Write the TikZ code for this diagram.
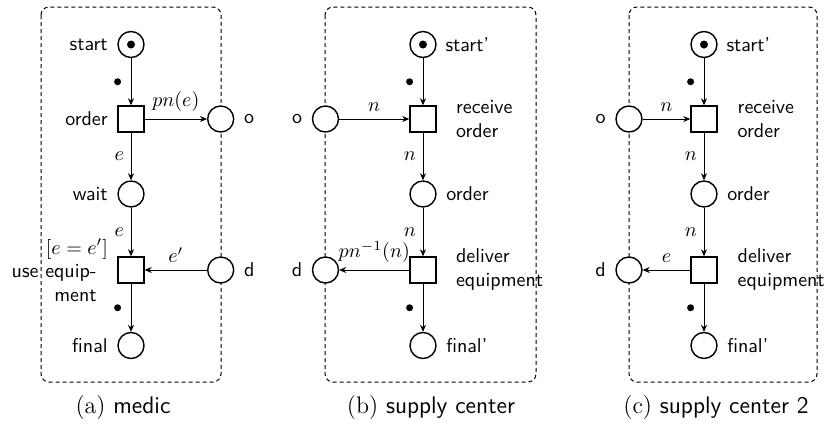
\documentclass[tikz,border=0pt]{standalone}
\usetikzlibrary{arrows.meta}
\begin{document}
\begin{tikzpicture}[x=0.5pt,y=-0.5pt,
  place/.style={circle,draw,line width=0.7pt,minimum size=13pt,inner sep=0pt,fill=white},
  trans/.style={rectangle,draw,line width=0.7pt,minimum size=13pt,inner sep=0pt,fill=white},
  pnarc/.style={-{Stealth[length=3.5pt,width=3pt]},line width=0.4pt},
  tok/.style={circle,fill=black,minimum size=3.5pt,inner sep=0pt},
  intok/.style={circle,fill=black,minimum size=4pt,inner sep=0pt},
  lbl/.style={inner sep=0pt,font=\sffamily},
  alab/.style={inner sep=3.33pt},
  capt/.style={inner sep=0pt,font=\fontsize{12}{14.4}\selectfont},
  groupbox/.style={draw,dash pattern=on 2pt off 1.5pt,rounded corners=4pt,line width=0.5pt}]
\useasboundingbox (0,0) rectangle (827,424);

% ---------- frames ----------
\draw[groupbox] (41,7) rectangle (221,382);
\draw[groupbox] (325,7) rectangle (536,382);
\draw[groupbox] (629,7) rectangle (817,382);

% ---------- (a) medic ----------
\node[place] (sA) at (131,44.5) {};
\node[intok] (sAt) at (sA) {};
\node[trans] (ordA) at (131,119) {};
\node[place] (oA) at (220.7,119) {};
\node[place] (wA) at (131,194) {};
\node[trans] (uA) at (131,270) {};
\node[place] (dA) at (220.7,270) {};
\node[place] (fA) at (131,345.5) {};

\node[lbl,anchor=east] (lsA) at ([xshift=-4.6pt]sA.west) {start};
\node[lbl,anchor=east] (lordA) at ([xshift=-4.6pt]ordA.west) {order};
\node[lbl,anchor=west] (loA) at ([xshift=4.6pt]oA.east) {o};
\node[lbl,anchor=east] (lwA) at ([xshift=-4.6pt]wA.west) {wait};
\node[lbl,anchor=west] (ldA) at ([xshift=4.6pt]dA.east) {d};
\node[lbl,anchor=east] (lfA) at ([xshift=-4.6pt]fA.west) {final};
\node[inner sep=0pt,anchor=east] (gA) at (108.3,249) {$[e = e']$};
\node[lbl,anchor=east,align=right] (luA) at (97,283) {use equip-\\ment};

\draw[pnarc] (sA) -- node[tok,left=4.75pt] (tkA1) {} (ordA);
\draw[pnarc] (ordA) -- node[alab,above] (lpA) {$pn(e)$} (oA);
\draw[pnarc] (ordA) -- node[alab,left] (leA1) {$e$} (wA);
\draw[pnarc] (wA) -- node[alab,left] (leA2) {$e$} (uA);
\draw[pnarc] (dA) -- node[alab,above] (leA3) {$e'$} (uA);
\draw[pnarc] (uA) -- node[tok,left=4.75pt] (tkA2) {} (fA);

\node[capt] (capA) at (123,408) {(a) \textsf{medic}};

% ---------- (b) supply center ----------
\node[place] (sB) at (423,44.5) {};
\node[intok] (sBt) at (sB) {};
\node[trans] (rB) at (423,119) {};
\node[place] (oB) at (325.5,119) {};
\node[place] (ordB) at (423,194) {};
\node[trans] (deB) at (423,270) {};
\node[place] (dB) at (325.5,270) {};
\node[place] (fB) at (423,345.5) {};

\node[lbl,anchor=west] (lsB) at ([xshift=4.2pt]sB.east) {start'};
\node[lbl,anchor=east] (loB) at ([xshift=-4.6pt]oB.west) {o};
\node[lbl,anchor=west,align=left] (lrB) at (455.7,119) {receive\\order};
\node[lbl,anchor=west] (lordB) at ([xshift=4.6pt]ordB.east) {order};
\node[lbl,anchor=west,align=left] (ldeB) at (455.7,269) {deliver\\equipment};
\node[lbl,anchor=east] (ldB) at ([xshift=-4.6pt]dB.west) {d};
\node[lbl,anchor=west] (lfB) at ([xshift=4.6pt]fB.east) {final'};

\draw[pnarc] (sB) -- node[tok,left=4.75pt] (tkB1) {} (rB);
\draw[pnarc] (oB) -- node[alab,above] (lnB1) {$n$} (rB);
\draw[pnarc] (rB) -- node[alab,left] (lnB2) {$n$} (ordB);
\draw[pnarc] (ordB) -- node[alab,left] (lnB3) {$n$} (deB);
\draw[pnarc] (deB) -- node[alab,above] (lpB) {$pn^{-1}(n)$} (dB);
\draw[pnarc] (deB) -- node[tok,left=4.75pt] (tkB2) {} (fB);

\node[capt] (capB) at (431,408) {(b) \textsf{supply center}};

% ---------- (c) supply center 2 ----------
\node[place] (sC) at (704,44.5) {};
\node[intok] (sCt) at (sC) {};
\node[trans] (rC) at (704,119) {};
\node[place] (oC) at (629,119) {};
\node[place] (ordC) at (704,194) {};
\node[trans] (deC) at (704,270) {};
\node[place] (dC) at (629,270) {};
\node[place] (fC) at (704,345.5) {};

\node[lbl,anchor=west] (lsC) at ([xshift=4.2pt]sC.east) {start'};
\node[lbl,anchor=east] (loC) at ([xshift=-4.6pt]oC.west) {o};
\node[lbl,anchor=west,align=left] (lrC) at (737.3,119) {receive\\order};
\node[lbl,anchor=west] (lordC) at ([xshift=4.6pt]ordC.east) {order};
\node[lbl,anchor=west,align=left] (ldeC) at (737.3,269) {deliver\\equipment};
\node[lbl,anchor=east] (ldC) at ([xshift=-4.6pt]dC.west) {d};
\node[lbl,anchor=west] (lfC) at ([xshift=4.6pt]fC.east) {final'};

\draw[pnarc] (sC) -- node[tok,left=4.75pt] (tkC1) {} (rC);
\draw[pnarc] (oC) -- node[alab,above] (lnC1) {$n$} (rC);
\draw[pnarc] (rC) -- node[alab,left] (lnC2) {$n$} (ordC);
\draw[pnarc] (ordC) -- node[alab,left] (lnC3) {$n$} (deC);
\draw[pnarc] (deC) -- node[alab,above] (leC) {$e$} (dC);
\draw[pnarc] (deC) -- node[tok,left=4.75pt] (tkC2) {} (fC);

\node[capt] (capC) at (716,408) {(c) \textsf{supply center 2}};
\end{tikzpicture}
\end{document}
